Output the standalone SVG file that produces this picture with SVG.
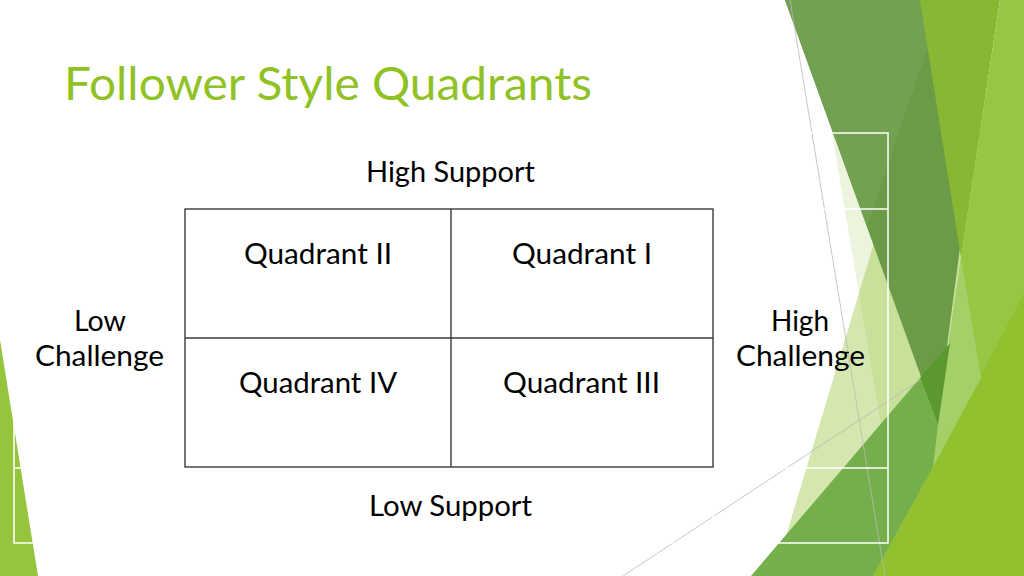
<svg xmlns="http://www.w3.org/2000/svg" width="1024" height="576" viewBox="0 0 1024 576">
  <style>
    .lbl { font-family: Lato, "Liberation Sans", sans-serif; font-size: 29px; fill: #000; }
    .title { font-family: Lato, "Liberation Sans", sans-serif; font-size: 47px; fill: #90C226; }
    .frame { stroke: #ffffff; stroke-width: 1.5; fill: none; }
    .grid { stroke: #3a3a3a; stroke-width: 1.4; fill: none; }
    .thin { stroke: #b9b9b9; stroke-width: 0.8; fill: none; }
  </style>
  <rect width="1024" height="576" fill="#ffffff"/>

  <g id="decor">
    <!-- left corner -->
    <polygon points="0,340 38,576 0,576" fill="#96C43C"/>
    <!-- pale shapes -->
    <polygon points="917,100 774,576 1024,576 1024,100" fill="#d5e7ae"/>
    <polygon points="825.6,95 1024,95 1024,560 903.7,560" fill="#8cbf3c" fill-opacity="0.17"/>
    <!-- dark triangle -->
    <polygon points="785,0 993,0 937,421" fill="#6b9b47"/>
    <polygon points="785,0 944,0 867,226" fill="#72a152"/>
    <!-- medium top triangle -->
    <polygon points="920,0 1000,0 961,258" fill="#88b733"/>
    <!-- bright right -->
    <polygon points="1000,0 1024,0 1024,576 873,576 933,467 938,425 961,258" fill="#99c642"/>
    <polygon points="1024,293 1024,576 873,576 933,467 980,377" fill="#92c02f"/>
    <!-- light strip -->
    <polygon points="961,258 981,378 933,467 937,421" fill="#a5cf68"/>
    <!-- medium bottom -->
    <polygon points="751,576 920,378 938,425 933,467 873,576" fill="#74af4b"/>
    <!-- darkest overlap -->
    <polygon points="920,378 950,343 938,425" fill="#5b992f"/>
    <!-- thin lines -->
    <line class="thin" x1="790" y1="0" x2="885" y2="576"/>
    <line class="thin" x1="623" y1="576" x2="920" y2="380"/>
    <!-- white table borders -->
    <rect class="frame" x="14" y="133" width="874" height="410"/>
    <line class="frame" x1="14" y1="209" x2="888" y2="209" stroke-width="2.2"/>
    <line class="frame" x1="14" y1="468" x2="888" y2="468"/>
    <line class="frame" x1="185" y1="133" x2="185" y2="543"/>
    <line class="frame" x1="713" y1="133" x2="713" y2="543"/>
  </g>

  <g id="title">
    <text class="title" x="64" y="100" textLength="528" lengthAdjust="spacingAndGlyphs">Follower Style Quadrants</text>
  </g>

  <g id="connectors">
    <rect class="grid" x="185" y="209" width="528" height="258"/>
    <line class="grid" x1="451" y1="209" x2="451" y2="467"/>
    <line class="grid" x1="185" y1="338" x2="713" y2="338"/>
  </g>

  <g id="high-support"><text class="lbl" x="450.5" y="182" text-anchor="middle" textLength="169" lengthAdjust="spacingAndGlyphs">High Support</text></g>
  <g id="low-support"><text class="lbl" x="450.5" y="516" text-anchor="middle" textLength="163" lengthAdjust="spacingAndGlyphs">Low Support</text></g>
  <g id="low-challenge">
    <text class="lbl" x="100" y="331" text-anchor="middle" textLength="52" lengthAdjust="spacingAndGlyphs">Low</text>
    <text class="lbl" x="99.5" y="366" text-anchor="middle" textLength="129" lengthAdjust="spacingAndGlyphs">Challenge</text>
  </g>
  <g id="high-challenge">
    <text class="lbl" x="800" y="331" text-anchor="middle" textLength="58" lengthAdjust="spacingAndGlyphs">High</text>
    <text class="lbl" x="800.5" y="366" text-anchor="middle" textLength="129" lengthAdjust="spacingAndGlyphs">Challenge</text>
  </g>
  <g id="quadrant-2"><text class="lbl" x="318" y="264" text-anchor="middle" textLength="148" lengthAdjust="spacingAndGlyphs">Quadrant II</text></g>
  <g id="quadrant-1"><text class="lbl" x="582" y="264" text-anchor="middle" textLength="140" lengthAdjust="spacingAndGlyphs">Quadrant I</text></g>
  <g id="quadrant-4"><text class="lbl" x="318" y="393" text-anchor="middle" textLength="158" lengthAdjust="spacingAndGlyphs">Quadrant IV</text></g>
  <g id="quadrant-3"><text class="lbl" x="581.5" y="393" text-anchor="middle" textLength="157" lengthAdjust="spacingAndGlyphs">Quadrant III</text></g>
</svg>
